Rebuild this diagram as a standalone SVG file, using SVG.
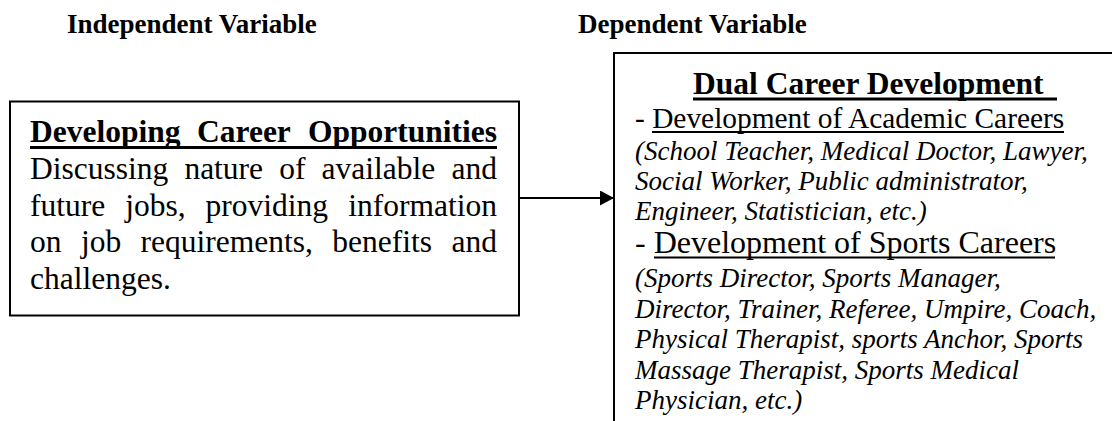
<svg xmlns="http://www.w3.org/2000/svg" width="1112" height="421" viewBox="0 0 1112 421">
<style>
text{font-family:"Liberation Serif","Times New Roman",serif;fill:#000}
.hdr{font-size:27px;font-weight:bold}
.ttl{font-size:31.5px;font-weight:bold}
.body{font-size:31.5px}
.dev1{font-size:29.4px}
.dev2{font-size:32px}
.it{font-size:27px;font-style:italic}
.box{fill:none;stroke:#000;stroke-width:2}
.ul{stroke:#000}
</style>
<defs>
<marker id="ah" markerWidth="14" markerHeight="15" refX="14" refY="7.5" orient="auto" markerUnits="userSpaceOnUse">
<path d="M0,0 L14,7.5 L0,15 Z" fill="#000"/>
</marker>
</defs>
<g id="headers">
<text class="hdr" x="67" y="33">Independent Variable</text>
<text class="hdr" x="578" y="33">Dependent Variable</text>
</g>
<g id="node-independent">
<rect class="box" x="10" y="101.5" width="509" height="214"/>
<text class="ttl" y="142"><tspan x="30">Developing</tspan><tspan x="197">Career</tspan><tspan x="497" text-anchor="end">Opportunities</tspan></text>
<line class="ul" x1="30" y1="147.5" x2="497" y2="147.5" stroke-width="3"/>
<text class="body" y="179"><tspan x="30">Discussing</tspan><tspan x="184.4">nature</tspan><tspan x="279.3">of</tspan><tspan x="321.6">available</tspan><tspan x="497" text-anchor="end">and</tspan></text>
<text class="body" y="215.5"><tspan x="30">future</tspan><tspan x="125.2">jobs,</tspan><tspan x="205.6">providing</tspan><tspan x="497" text-anchor="end">information</tspan></text>
<text class="body" y="252"><tspan x="30">on</tspan><tspan x="80.9">job</tspan><tspan x="140.6">requirements,</tspan><tspan x="332.3">benefits</tspan><tspan x="497" text-anchor="end">and</tspan></text>
<text class="body" x="30" y="288.5">challenges.</text>
</g>
<g id="node-dependent">
<path class="box" d="M1113,53 H614 V422"/>
<text class="ttl" x="693" y="93.5">Dual Career Development</text>
<line class="ul" x1="693" y1="99" x2="1057" y2="99" stroke-width="3"/>
<text class="dev1" x="635" y="128">- Development of Academic Careers</text>
<line class="ul" x1="652" y1="132" x2="1064" y2="132" stroke-width="2"/>
<text class="it" x="635" y="160">(School Teacher, Medical Doctor, Lawyer,</text>
<text class="it" x="635" y="190">Social Worker, Public administrator,</text>
<text class="it" x="635" y="220">Engineer, Statistician, etc.)</text>
<text class="dev2" x="635" y="253">- Development of Sports Careers</text>
<line class="ul" x1="654" y1="257.5" x2="1055" y2="257.5" stroke-width="2"/>
<text class="it" x="635" y="287">(Sports Director, Sports Manager,</text>
<text class="it" x="635" y="318">Director, Trainer, Referee, Umpire, Coach,</text>
<text class="it" x="635" y="348">Physical Therapist, sports Anchor, Sports</text>
<text class="it" x="635" y="379">Massage Therapist, Sports Medical</text>
<text class="it" x="635" y="409">Physician, etc.)</text>
</g>
<g id="connectors">
<line x1="519" y1="198" x2="614" y2="198" stroke="#000" stroke-width="2" marker-end="url(#ah)"/>
</g>
</svg>
